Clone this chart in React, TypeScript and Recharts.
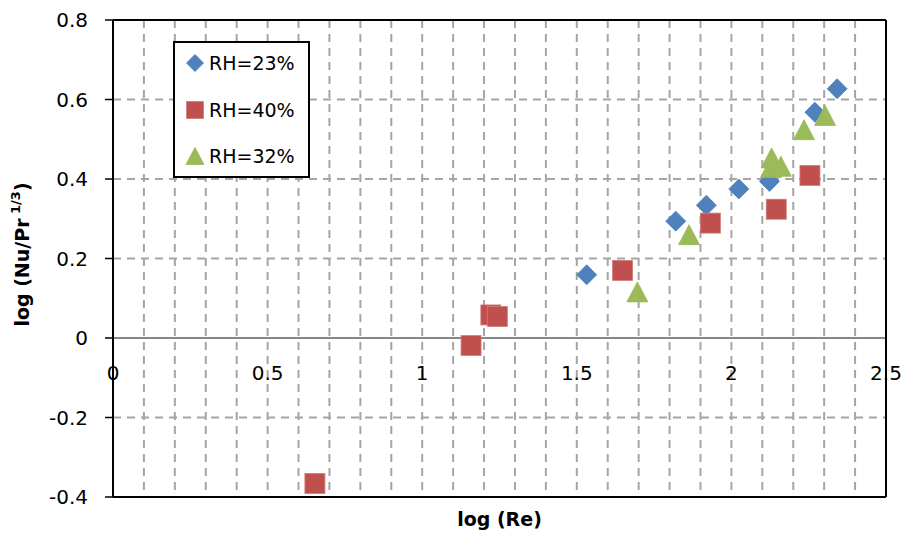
import React from "react";
import {
  ScatterChart,
  Scatter,
  XAxis,
  YAxis,
  CartesianGrid,
  ReferenceLine,
  Legend,
} from "recharts";

// log(Re) / log(Nu/Pr^1/3)
const rh23X = [1.532, 1.82, 1.919, 2.024, 2.123, 2.27, 2.342];
const rh23Y = [0.159, 0.294, 0.334, 0.375, 0.394, 0.568, 0.627];
const rh40X = [0.653, 1.158, 1.222, 1.243, 1.648, 1.932, 2.145, 2.254];
const rh40Y = [-0.366, -0.019, 0.058, 0.054, 0.17, 0.289, 0.324, 0.409];
const rh32X = [1.696, 1.863, 2.128, 2.13, 2.16, 2.235, 2.303];
const rh32Y = [0.116, 0.26, 0.429, 0.453, 0.432, 0.524, 0.56];

const seriesNames = ["RH=23%", "RH=40%", "RH=32%"];
const seriesColors = ["#4F81BD", "#C0504D", "#9BBB59"];

const xTicks = [
  0, 0.1, 0.2, 0.3, 0.4, 0.5, 0.6, 0.7, 0.8, 0.9, 1, 1.1, 1.2, 1.3, 1.4, 1.5,
  1.6, 1.7, 1.8, 1.9, 2, 2.1, 2.2, 2.3, 2.4, 2.5,
];
const xTickLabels = [0, 0.5, 1, 1.5, 2, 2.5];
const yTicks = [-0.4, -0.2, 0, 0.2, 0.4, 0.6, 0.8];

const toPoints = (xs: number[], ys: number[]) =>
  xs.map((x, i) => ({ x, y: ys[i] }));

const W = 906;
const H = 537;
const margin = { top: 20, right: 20, bottom: 0, left: 0 };
const yAxisWidth = 113;
const xAxisHeight = 40;
const yMin = -0.4;
const yMax = 0.8;
const plotTop = margin.top;
const plotBottom = H - margin.bottom - xAxisHeight;
const zeroY = plotBottom - ((plotBottom - plotTop) * (0 - yMin)) / (yMax - yMin);

const tickFont = "DejaVu Sans";

const Diamond = ({ cx, cy, r = 10, fill }: any) => (
  <path
    d={`M${cx},${cy - r}L${cx + r},${cy}L${cx},${cy + r}L${cx - r},${cy}Z`}
    fill={fill}
    stroke="#4A7EBB"
    strokeWidth={0.8}
  />
);

const Square = ({ cx, cy, r = 10, fill }: any) => (
  <rect
    x={cx - r}
    y={cy - r}
    width={2 * r}
    height={2 * r}
    fill={fill}
    stroke="#D07B79"
    strokeWidth={0.8}
  />
);

const Triangle = ({ cx, cy, r = 10, fill }: any) => (
  <path
    d={`M${cx},${cy - r}L${cx + r + 0.5},${cy + r}L${cx - r - 0.5},${cy + r}Z`}
    fill={fill}
    stroke="#98B954"
    strokeWidth={0.8}
  />
);

const shapes = [Diamond, Square, Triangle];

const XTick = ({ x, payload }: any) => {
  if (!xTickLabels.includes(payload.value)) return null;
  return (
    <text
      x={x}
      y={zeroY + 35}
      dy="0.35em"
      textAnchor="middle"
      fontFamily={tickFont}
      fontSize={20}
      fill="#000"
    >
      {payload.value}
    </text>
  );
};

const YTitle = ({ viewBox }: any) => {
  const cx = viewBox.x + 22;
  const cy = viewBox.y + viewBox.height / 2 - 4;
  return (
    <text
      x={cx}
      y={cy}
      transform={`rotate(-90 ${cx} ${cy})`}
      textAnchor="middle"
      dominantBaseline="central"
      fontFamily={tickFont}
      fontWeight="bold"
      fontSize={19}
      fill="#000"
    >
      <tspan>log (Nu/Pr</tspan>
      <tspan dy={-7} fontSize={13}>
        {" 1/3"}
      </tspan>
      <tspan dy={7}>)</tspan>
    </text>
  );
};

const XTitle = ({ viewBox }: any) => (
  <text
    x={viewBox.x + viewBox.width / 2}
    y={viewBox.y + 22}
    textAnchor="middle"
    dominantBaseline="central"
    fontFamily={tickFont}
    fontWeight="bold"
    fontSize={19}
    fill="#000"
  >
    log (Re)
  </text>
);

const LegendBox = () => (
  <div
    style={{
      position: "relative",
      width: 137,
      height: 137,
      boxSizing: "border-box",
      border: "2px solid #000",
      background: "#fff",
      fontFamily: tickFont,
      fontSize: 19,
      color: "#000",
    }}
  >
    {seriesNames.map((name, i) => {
      const Shape = shapes[i];
      return (
        <div
          key={name}
          style={{
            position: "absolute",
            left: 9,
            top: 8 + i * 46.5,
            height: 24,
            display: "flex",
            alignItems: "center",
          }}
        >
          <svg width={22} height={22} style={{ display: "block" }}>
            <Shape cx={11} cy={11} r={8.5} fill={seriesColors[i]} />
          </svg>
          <span style={{ marginLeft: 3, lineHeight: "24px" }}>{name}</span>
        </div>
      );
    })}
  </div>
);

export default function App() {
  const series = [
    toPoints(rh23X, rh23Y),
    toPoints(rh40X, rh40Y),
    toPoints(rh32X, rh32Y),
  ];

  return (
    <div style={{ position: "absolute", left: 0, top: 0, background: "#fff" }}>
      <ScatterChart width={W} height={H} margin={margin}>
        <CartesianGrid
          stroke="#A5A5A5"
          strokeWidth={2}
          strokeDasharray="8 6"
        />
        <XAxis
          type="number"
          dataKey="x"
          domain={[0, 2.5]}
          ticks={xTicks}
          interval={0}
          height={xAxisHeight}
          axisLine={{ stroke: "#000", strokeWidth: 2 }}
          tickLine={false}
          tick={<XTick />}
          allowDataOverflow
          label={{ content: <XTitle /> }}
        />
        <YAxis
          type="number"
          dataKey="y"
          domain={[yMin, yMax]}
          ticks={yTicks}
          interval={0}
          width={yAxisWidth}
          axisLine={{ stroke: "#000", strokeWidth: 2 }}
          tickLine={{ stroke: "#000", strokeWidth: 1.5 }}
          tickSize={8}
          tickMargin={17}
          tick={{ fill: "#000", fontSize: 20, fontFamily: tickFont }}
          allowDataOverflow
          label={{ content: <YTitle /> }}
        />
        <ReferenceLine y={0} stroke="#868686" strokeWidth={2} />
        <ReferenceLine y={yMax} stroke="#000" strokeWidth={2} />
        <ReferenceLine x={2.5} stroke="#000" strokeWidth={2} />
        <Legend
          layout="vertical"
          align="center"
          verticalAlign="middle"
          wrapperStyle={{ left: 173, top: 41, width: 137, height: 137 }}
          content={() => <LegendBox />}
        />
        {series.map((pts, i) => {
          const Shape = shapes[i];
          return (
            <Scatter
              key={seriesNames[i]}
              name={seriesNames[i]}
              data={pts}
              fill={seriesColors[i]}
              isAnimationActive={false}
              shape={(p: any) => (
                <Shape cx={p.cx} cy={p.cy} fill={seriesColors[i]} />
              )}
            />
          );
        })}
      </ScatterChart>
    </div>
  );
}
